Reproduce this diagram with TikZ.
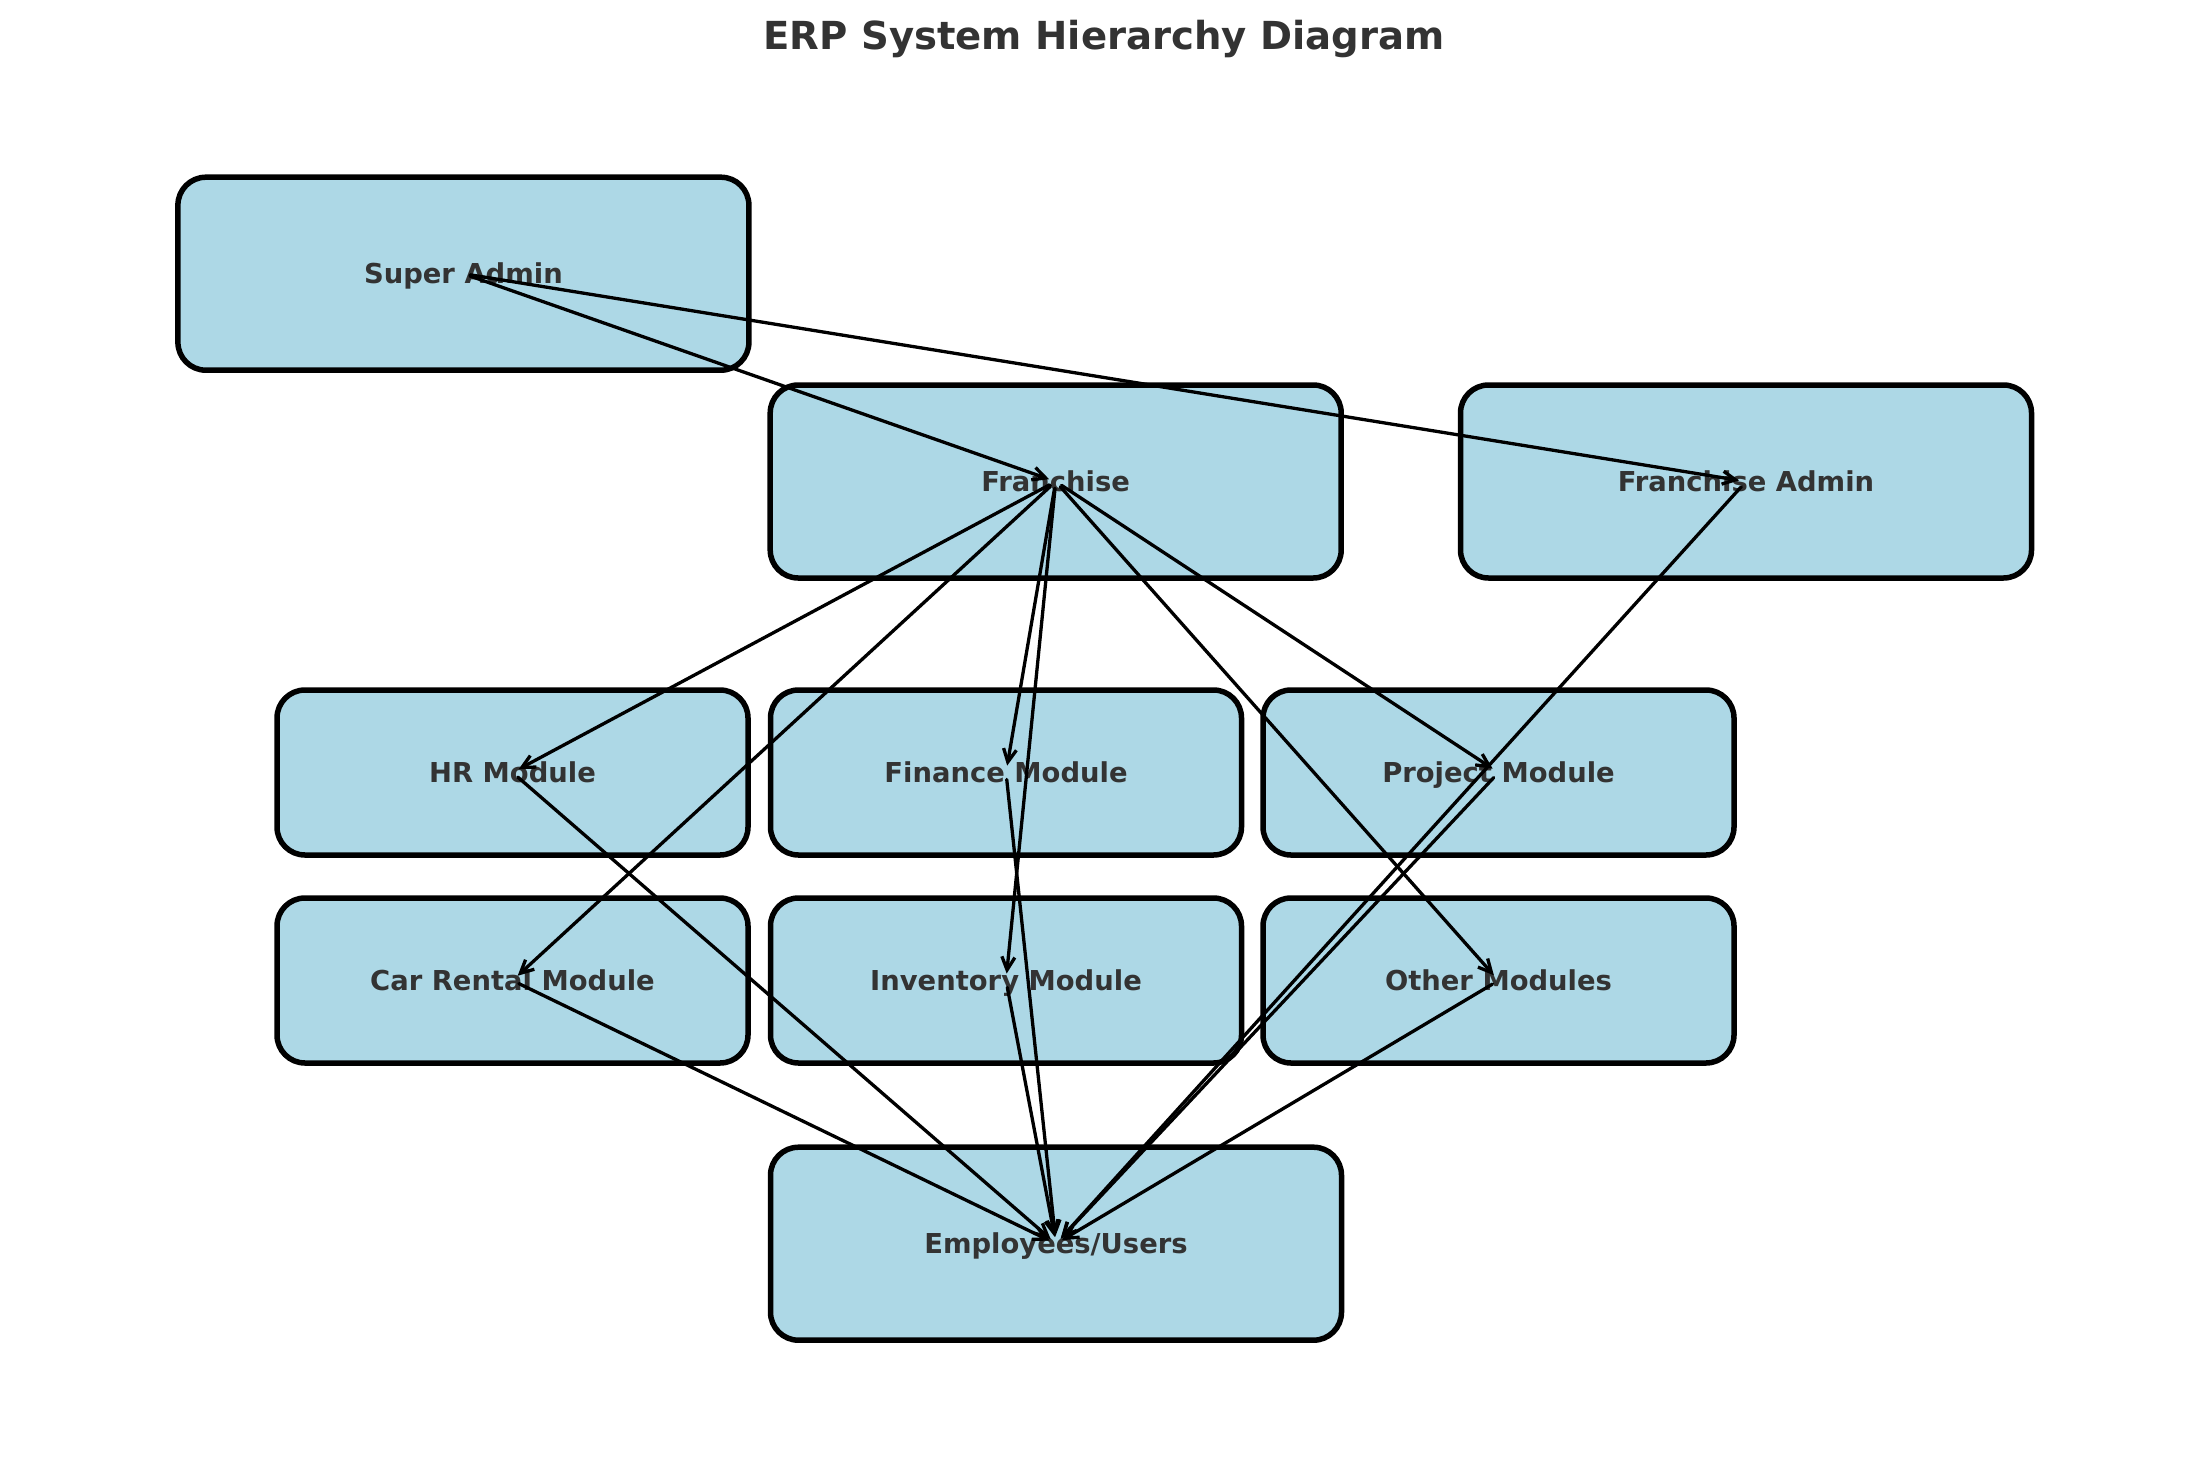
\documentclass[tikz,border=0pt]{standalone}
\usepackage{fontspec}
\setmainfont{DejaVu Sans}
\usetikzlibrary{arrows.meta}
\definecolor{boxfill}{HTML}{ADD8E6}
\definecolor{txt}{HTML}{333333}
\begin{document}
\begin{tikzpicture}[x=1pt,y=-1pt,
  box/.style={draw=black, line width=5.5pt, fill=boxfill, rounded corners=28pt, text=txt,
    font=\fontsize{27.4}{32}\selectfont\bfseries, text height=20pt, text depth=0pt, inner sep=0pt},
  bigbox/.style={box, minimum width=571pt, minimum height=193pt},
  modbox/.style={box, minimum width=471pt, minimum height=165pt},
  conn/.style={draw=black, line width=3.3pt, line cap=round,
    -{Straight Barb[length=13pt,width=13pt]}, shorten <=7pt, shorten >=7pt}]
\useasboundingbox (0,0) rectangle (2210,1472);
\node[text=txt, font=\fontsize{38.6}{46}\selectfont\bfseries, text height=28pt, text depth=0pt, inner sep=0pt]
  (title) at (1104,36) {ERP System Hierarchy Diagram};
\node[bigbox] (sa) at (463.4,273.7) {Super Admin};
\node[bigbox] (fr) at (1055.7,481.5) {Franchise};
\node[bigbox] (fa) at (1746,481.5) {Franchise Admin};
\node[modbox] (hr) at (512.5,772.5) {HR Module};
\node[modbox] (fin) at (1006,772.5) {Finance Module};
\node[modbox] (proj) at (1498.5,772.5) {Project Module};
\node[modbox] (car) at (512.5,980.5) {Car Rental Module};
\node[modbox] (inv) at (1006,980.5) {Inventory Module};
\node[modbox] (oth) at (1498.5,980.5) {Other Modules};
\node[bigbox] (emp) at (1056,1243.7) {Employees/Users};
\draw[conn] (sa.center) -- (fr.center);
\draw[conn] (sa.center) -- (fa.center);
\draw[conn] (fr.center) -- (hr.center);
\draw[conn] (fr.center) -- (fin.center);
\draw[conn] (fr.center) -- (proj.center);
\draw[conn] (fr.center) -- (car.center);
\draw[conn] (fr.center) -- (inv.center);
\draw[conn] (fr.center) -- (oth.center);
\draw[conn] (fa.center) -- (emp.center);
\draw[conn] (hr.center) -- (emp.center);
\draw[conn] (fin.center) -- (emp.center);
\draw[conn] (proj.center) -- (emp.center);
\draw[conn] (car.center) -- (emp.center);
\draw[conn] (inv.center) -- (emp.center);
\draw[conn] (oth.center) -- (emp.center);
\end{tikzpicture}
\end{document}
